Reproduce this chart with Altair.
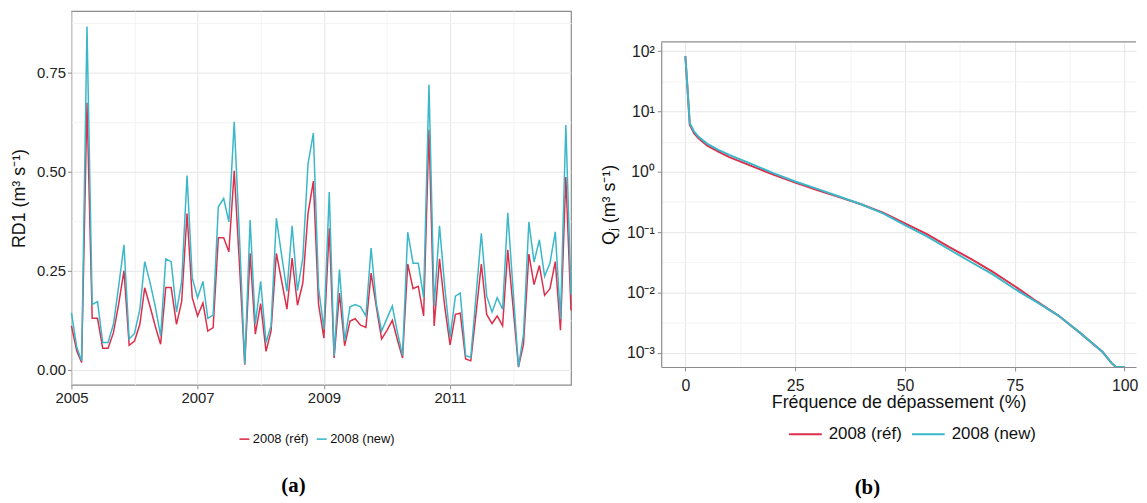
import json
import altair as alt
import pandas as pd

# ---------------- data: panel (a) monthly RD1 ----------------
dates = pd.date_range("2005-01-01", periods=96, freq="MS").strftime("%Y-%m-%d").tolist()
rd1_ref = [
    0.111, 0.048, 0.019, 0.673, 0.130, 0.130, 0.055, 0.055, 0.094, 0.165, 0.250, 0.062,
    0.073, 0.115, 0.207, 0.160, 0.110, 0.065, 0.208, 0.208, 0.115, 0.173, 0.394, 0.182,
    0.136, 0.169, 0.098, 0.107, 0.333, 0.333, 0.298, 0.502, 0.260, 0.013, 0.294, 0.090,
    0.167, 0.047, 0.098, 0.294, 0.225, 0.153, 0.282, 0.163, 0.219, 0.394, 0.476, 0.165,
    0.080, 0.357, 0.030, 0.194, 0.061, 0.123, 0.129, 0.113, 0.107, 0.244, 0.157, 0.078,
    0.100, 0.125, 0.078, 0.030, 0.267, 0.205, 0.211, 0.136, 0.605, 0.111, 0.280, 0.160,
    0.063, 0.140, 0.143, 0.028, 0.023, 0.145, 0.267, 0.140, 0.117, 0.136, 0.111, 0.303,
    0.157, 0.007, 0.065, 0.292, 0.215, 0.263, 0.188, 0.205, 0.273, 0.100, 0.486, 0.150,
]
rd1_new = [
    0.144, 0.057, 0.023, 0.865, 0.165, 0.172, 0.069, 0.069, 0.115, 0.210, 0.315, 0.078,
    0.092, 0.153, 0.273, 0.220, 0.160, 0.086, 0.280, 0.273, 0.146, 0.223, 0.490, 0.232,
    0.182, 0.223, 0.130, 0.138, 0.411, 0.432, 0.373, 0.625, 0.330, 0.015, 0.378, 0.115,
    0.223, 0.069, 0.111, 0.382, 0.290, 0.198, 0.363, 0.200, 0.282, 0.519, 0.597, 0.207,
    0.103, 0.448, 0.036, 0.253, 0.073, 0.159, 0.165, 0.159, 0.136, 0.307, 0.165, 0.098,
    0.130, 0.161, 0.098, 0.036, 0.347, 0.269, 0.269, 0.182, 0.719, 0.161, 0.363, 0.210,
    0.082, 0.186, 0.194, 0.036, 0.032, 0.190, 0.344, 0.186, 0.146, 0.182, 0.153, 0.396,
    0.200, 0.008, 0.090, 0.373, 0.272, 0.328, 0.236, 0.269, 0.348, 0.128, 0.617, 0.190,
]

# ---------------- data: panel (b) flow duration curve ----------------
freq = [0, 1, 2, 3, 5, 7.5, 10, 15, 20, 25, 30, 35, 40, 45, 50, 55, 60, 65, 70, 75, 80, 85, 90, 95, 97, 98, 100]
q_ref = [82, 6.0, 4.3, 3.6, 2.7, 2.15, 1.75, 1.25, 0.9, 0.66, 0.5, 0.38, 0.29, 0.21, 0.14, 0.093,
         0.057, 0.036, 0.022, 0.0127, 0.0071, 0.0041, 0.0021, 0.00103, 0.00068, 0.00052, 0.0003]
q_new = [82, 6.4, 4.6, 3.8, 2.9, 2.3, 1.9, 1.35, 0.95, 0.69, 0.52, 0.39, 0.29, 0.205, 0.13, 0.085,
         0.052, 0.032, 0.020, 0.0114, 0.0069, 0.0041, 0.0021, 0.00103, 0.00068, 0.00052, 0.0003]

series = ["2008 (réf)", "2008 (new)"]
colors = ["#DC2F4B", "#3AB7C8"]
captions = ["(a)", "(b)"]

y_ticks_a = [0.0, 0.25, 0.5, 0.75]
y_minor_a = [0.125, 0.375, 0.625, 0.875]
years_a = list(range(2005, 2013))
x_ticks_b = [0, 25, 50, 75, 100]
x_minor_b = [12.5, 37.5, 62.5, 87.5]
y_ticks_b = [0.001, 0.01, 0.1, 1, 10, 100]
y_tick_labels_b = ["10⁻³", "10⁻²", "10⁻¹", "10⁰", "10¹", "10²"]
y_minor_b = [10 ** -2.5, 10 ** -1.5, 10 ** -0.5, 10 ** 0.5, 10 ** 1.5]

FONT = "Liberation Sans"
BORDER = "#8C8C8C"
GRID = "#E6E6E6"
GRID_MINOR = "#F3F3F3"

df_a = pd.concat([
    pd.DataFrame({"date": dates, "value": rd1_ref, "serie": series[0]}),
    pd.DataFrame({"date": dates, "value": rd1_new, "serie": series[1]}),
])
df_b = pd.concat([
    pd.DataFrame({"freq": freq, "q": q_ref, "serie": series[0]}),
    pd.DataFrame({"freq": freq, "q": q_new, "serie": series[1]}),
])

def cond(test, a, b):
    return {"condition": {"test": test, "value": a}, "value": b}

# ---------------- panel (a) ----------------
WA, HA = 504, 377
minor_a_test = "utcyear(datum.value) % 2 == 0"
xa = alt.X(
    "date:T",
    scale=alt.Scale(type="utc", nice=False,
                    domain=[alt.DateTime(year=2005, month=1, date=1, utc=True),
                            alt.DateTime(year=2012, month=12, date=1, utc=True)]),
    axis=alt.Axis(
        title=None, values=[alt.DateTime(year=y, month=1, date=1, utc=True) for y in years_a],
        labelExpr="utcyear(datum.value) % 2 == 1 ? utcFormat(datum.value, '%Y') : ''",
        gridColor=cond(minor_a_test, GRID_MINOR, GRID),
        tickOpacity=cond(minor_a_test, 0, 1),
        domain=False, tickColor=BORDER, tickSize=4, labelPadding=2,
        labelFontSize=15, labelFont=FONT, labelColor="#222", labelFlush=False,
    ),
)
minor_ya = "round(datum.value * 8) % 2 == 1"
ya = alt.Y(
    "value:Q",
    scale=alt.Scale(domain=[-0.0375, 0.904], nice=False, zero=False),
    axis=alt.Axis(
        title="RD1 (m³ s⁻¹)", values=sorted(y_ticks_a + y_minor_a),
        labelExpr="round(datum.value * 8) % 2 == 1 ? '' : format(datum.value, '.2f')",
        gridColor=cond(minor_ya, GRID_MINOR, GRID),
        tickOpacity=cond(minor_ya, 0, 1),
        domain=False, tickColor=BORDER, tickSize=4, labelPadding=2,
        labelFontSize=15, labelFont=FONT, labelColor="#222",
        titleFontSize=18, titleFont=FONT, titleFontWeight="normal", titleColor="#111", titlePadding=8,
    ),
)
color_a = alt.Color(
    "serie:N", scale=alt.Scale(domain=series, range=colors),
    legend=alt.Legend(
        orient="none", legendX=168, legendY=425, direction="horizontal", title=None,
        symbolType="stroke", symbolSize=100, symbolStrokeWidth=1.6,
        labelFontSize=13, labelFont=FONT, labelColor="#111", labelOffset=2, columnPadding=4,
    ),
)
base_a = alt.Chart(df_a).encode(x=xa, y=ya, color=color_a)
line_a_ref = base_a.transform_filter(alt.datum.serie == series[0]).mark_line(strokeWidth=1.5)
line_a_new = base_a.transform_filter(alt.datum.serie == series[1]).mark_line(strokeWidth=1.5)
cap_a = alt.Chart(pd.DataFrame({"t": [captions[0]]})).mark_text(
    font="Liberation Serif", fontWeight="bold", fontSize=21, baseline="middle", align="center"
).encode(text="t:N", x=alt.value(224), y=alt.value(479))

panel_a = alt.layer(line_a_ref, line_a_new, cap_a).properties(
    width=WA, height=HA, view=alt.ViewBackground(stroke=BORDER, strokeWidth=1.2)
)

# ---------------- panel (b) ----------------
WB, HB = 479, 328
minor_xb = "datum.value % 25 != 0"
xb = alt.X(
    "freq:Q",
    scale=alt.Scale(domain=[-5.5, 102.6], nice=False, zero=False),
    axis=alt.Axis(
        title="Fréquence de dépassement (%)", values=sorted(x_ticks_b + x_minor_b),
        labelExpr="datum.value % 25 != 0 ? '' : datum.label",
        gridColor=cond(minor_xb, GRID_MINOR, GRID),
        tickOpacity=cond(minor_xb, 0, 1),
        domain=True, domainColor=BORDER, domainWidth=1.2,
        tickColor=BORDER, tickSize=4, labelPadding=7,
        labelFontSize=16, labelFont=FONT, labelColor="#222",
        titleFontSize=18, titleFont=FONT, titleFontWeight="normal", titleColor="#111", titlePadding=0,
    ),
)
minor_yb = "abs(log(datum.value) / LN10 - round(log(datum.value) / LN10)) > 0.1"
yb = alt.Y(
    "q:Q",
    scale=alt.Scale(type="log", domain=[5.82e-4, 142], nice=False, clamp=True),
    axis=alt.Axis(
        title="Qⱼ (m³ s⁻¹)", values=sorted(y_ticks_b + y_minor_b),
        labelExpr=minor_yb + " ? '' : " + json.dumps(y_tick_labels_b, ensure_ascii=False)
        + "[round(log(datum.value) / LN10) + 3]",
        gridColor=cond(minor_yb, GRID_MINOR, GRID),
        tickOpacity=cond(minor_yb, 0, 1),
        domain=True, domainColor=BORDER, domainWidth=1.2,
        tickColor=BORDER, tickSize=4, labelPadding=3,
        labelFontSize=16, labelFont=FONT, labelColor="#222",
        titleFontSize=18, titleFont=FONT, titleFontWeight="normal", titleColor="#111", titlePadding=8,
    ),
)
color_b = alt.Color(
    "serie:N", scale=alt.Scale(domain=series, range=colors),
    legend=alt.Legend(
        orient="none", legendX=128, legendY=378, direction="horizontal", title=None,
        symbolType="stroke", symbolSize=1089, symbolStrokeWidth=2,
        labelFontSize=17, labelFont=FONT, labelColor="#111", labelOffset=6, columnPadding=6,
    ),
)
base_b = alt.Chart(df_b).encode(x=xb, y=yb, color=color_b, order="freq:Q")
line_b_ref = base_b.transform_filter(alt.datum.serie == series[0]).mark_line(strokeWidth=2, clip=True)
line_b_new = base_b.transform_filter(alt.datum.serie == series[1]).mark_line(strokeWidth=2, clip=True)
top_border = alt.Chart(pd.DataFrame({"t": [0]})).mark_rule(color=BORDER, strokeWidth=1.2).encode(
    x=alt.value(0), x2=alt.value(WB), y=alt.value(0)
)
cap_b = alt.Chart(pd.DataFrame({"t": [captions[1]]})).mark_text(
    font="Liberation Serif", fontWeight="bold", fontSize=21, baseline="middle", align="center"
).encode(text="t:N", x=alt.value(208), y=alt.value(450))

panel_b = alt.layer(line_b_ref, line_b_new, top_border, cap_b).properties(
    width=WB, height=HB, view=alt.ViewBackground(stroke="transparent"),
)

# invisible spacer pushing panel (b) down
spacer = alt.Chart(pd.DataFrame({"t": [0]})).mark_point(opacity=0).properties(
    width=WB, height=28, view=alt.ViewBackground(stroke="transparent")
)
right = (
    alt.vconcat(spacer, panel_b, spacing=0)
    .resolve_scale(x="independent", y="independent", color="independent")
    .resolve_legend(color="independent")
)

chart = (
    alt.hconcat(panel_a, right, spacing=25)
    .resolve_scale(x="independent", y="independent", color="independent")
    .resolve_legend(color="independent")
    .properties(padding={"left": 2, "top": 0, "right": 0, "bottom": 0})
    .configure(font=FONT)
    .configure_view(stroke=BORDER)
    .configure_axis(gridWidth=1)
)

chart.save("out.html", embed_options={"renderer": "svg", "actions": False})
